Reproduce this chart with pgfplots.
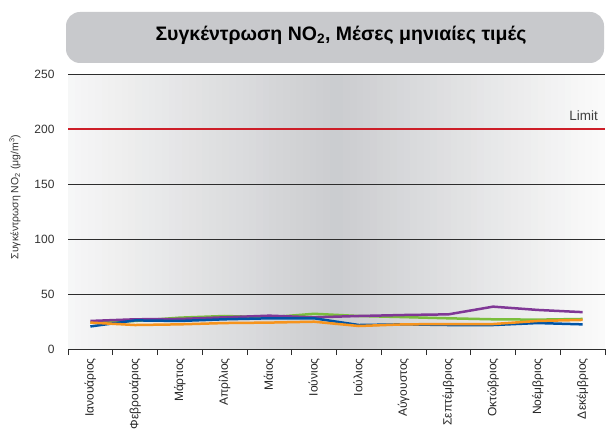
\documentclass[border=0pt]{standalone}
\usepackage{fontspec}
\setmainfont{Liberation Sans}
\usepackage{pgfplots}
\pgfplotsset{compat=1.18}
\definecolor{titlegray}{RGB}{200,201,204}
\definecolor{cblue}{RGB}{0,84,166}
\definecolor{cgreen}{RGB}{122,190,60}
\definecolor{cpurple}{RGB}{128,55,150}
\definecolor{corange}{RGB}{247,148,29}
\definecolor{climit}{RGB}{205,30,40}
\definecolor{bgl}{RGB}{247,247,247}
\definecolor{bgm}{RGB}{203,204,207}
\definecolor{bgr}{RGB}{251,251,251}
\definecolor{gridc}{RGB}{45,45,45}
\begin{document}
\begin{tikzpicture}
\useasboundingbox (0,0) rectangle (613bp,439bp);
\fill[white] (0,0) rectangle (613bp,439bp);
\foreach \i in {0,...,79}{
  \pgfmathsetmacro{\xa}{68+\i*6.7125}
  \pgfmathsetmacro{\xb}{68+(\i+1)*6.7125+0.3}
  \ifnum\i<40
    \pgfmathsetmacro{\p}{(\i+0.5)/40*100}
    \fill[bgm!\p!bgl] (\xa bp,90bp) rectangle (\xb bp,365bp);
  \else
    \pgfmathsetmacro{\p}{(80-\i-0.5)/40*100}
    \fill[bgm!\p!bgr] (\xa bp,90bp) rectangle (\xb bp,365bp);
  \fi
}
\fill[titlegray, rounded corners=14bp] (66bp,376bp) rectangle (604bp,427bp);
\node[font=\fontsize{19.5bp}{22bp}\selectfont\bfseries] at (341bp,404bp) {Συγκέντρωση NO\textsubscript{2}, Μέσες μηνιαίες τιμές};
\node[rotate=90, font=\fontsize{10.5bp}{12bp}\selectfont, text=black!80] at (15bp,242bp) {Συγκέντρωση NO\textsubscript{2} (μg/m\textsuperscript{3})};
\begin{axis}[
  at={(68bp,90bp)}, anchor=south west,
  scale only axis, width=537bp, height=275bp,
  xmin=0, xmax=12, ymin=0, ymax=250,
  axis x line*=bottom, axis y line*=left,
  y axis line style={draw=none},
  x axis line style={gridc, line width=0.9bp},
  xtick={0,...,12}, x tick label as interval,
  xticklabels={Ιανουάριος,Φεβρουάριος,Μάρτιος,Απρίλιος,Μάιος,Ιούνιος,Ιούλιος,Αύγουστος,Σεπτέμβριος,Οκτώβριος,Νοέμβριος,Δεκέμβριος},
  xticklabel style={rotate=90, anchor=east, font=\fontsize{12bp}{14bp}\selectfont, text=black!85},
  x tick style={gridc, line width=0.9bp},
  tick align=outside, major tick length=6bp,
  ytick={0,50,...,250},
  y tick style={draw=none},
  yticklabel style={font=\fontsize{12bp}{14bp}\selectfont, text=black!80, xshift=-4bp},
  /pgf/number format/assume math mode=true,
  ymajorgrids, major grid style={gridc, line width=0.9bp},
  clip=false,
]
\addplot[climit, line width=1.2bp] coordinates {(0,200) (12,200)};
\node[anchor=south east, font=\fontsize{13.5bp}{15bp}\selectfont, text=black!75] at (axis cs:11.92,204) {Limit};
\addplot[cgreen, line width=2.5bp] coordinates {(0.5,24) (1.5,25.5) (2.5,28.5) (3.5,30) (4.5,28.8) (5.5,32) (6.5,30) (7.5,29) (8.5,27.9) (9.5,27) (10.5,26.7) (11.5,27.3)};
\addplot[cpurple, line width=2.5bp] coordinates {(0.5,25.5) (1.5,27) (2.5,27.3) (3.5,28.8) (4.5,30.3) (5.5,28.8) (6.5,30) (7.5,30.9) (8.5,31.5) (9.5,38.5) (10.5,35.5) (11.5,33.5)};
\addplot[cblue, line width=2.5bp] coordinates {(0.5,20.5) (1.5,26) (2.5,25.5) (3.5,27) (4.5,27.9) (5.5,27.9) (6.5,21.8) (7.5,22.4) (8.5,21.8) (9.5,21.8) (10.5,23.6) (11.5,22.4)};
\addplot[corange, line width=2.5bp] coordinates {(0.5,24) (1.5,21.8) (2.5,22.4) (3.5,23.6) (4.5,24) (5.5,24.8) (6.5,20.9) (7.5,22.4) (8.5,22.7) (9.5,22.7) (10.5,25.5) (11.5,26.4)};
\end{axis}
\end{tikzpicture}
\end{document}
